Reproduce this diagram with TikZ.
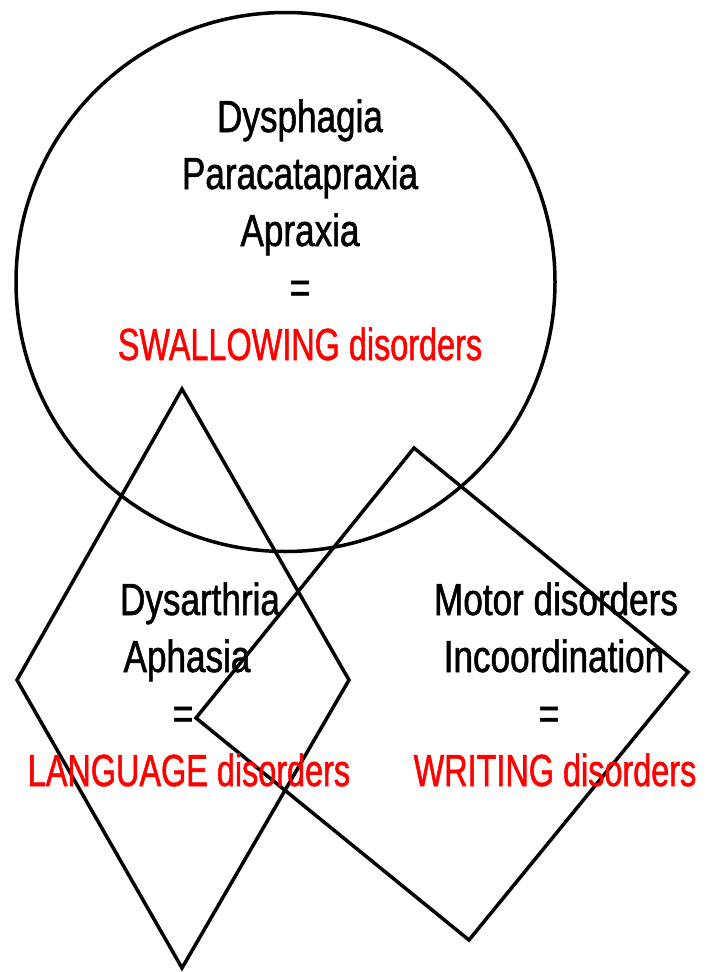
\documentclass[tikz,border=0pt]{standalone}
\usepackage{fontspec}
\setmainfont{Liberation Sans}[FakeStretch=0.78,FakeBold=1.2]
\newfontfamily\capsfont{Liberation Sans}[FakeStretch=0.72,FakeBold=1.2]
\begin{document}
\begin{tikzpicture}[x=1pt,y=-1pt,
  shape line/.style={draw=black, line width=3.5pt, line join=miter},
  txt/.style={anchor=base, inner sep=0pt, font=\fontsize{45}{45}\selectfont, text=black},
  redtxt/.style={anchor=base, inner sep=0pt, font=\fontsize{45}{45}\capsfont, text=red}]
\useasboundingbox (0,0) rectangle (709,972);
% swallowing circle
\draw[shape line] (285.5,282) circle[radius=269.5];
% language diamond
\coordinate (lt) at (182,389);
\coordinate (lr) at (349,680);
\coordinate (lb) at (182,968);
\coordinate (ll) at (17,680);
\draw[shape line] (lt) -- (lr) -- (lb) -- (ll) -- cycle;
% writing diamond
\coordinate (wt) at (414,448);
\coordinate (wr) at (688,672);
\coordinate (wb) at (469,940);
\coordinate (wl) at (196,718);
\draw[shape line] (wt) -- (wr) -- (wb) -- (wl) -- cycle;
% circle texts
\node[txt] (s1) at (300,132) {Dysphagia};
\node[txt] (s2) at (300,189) {Paracatapraxia};
\node[txt] (s3) at (300,246) {Apraxia};
\node[txt] (s4) at (300,303) {=};
\node[redtxt] (s5) at (300,360) {SWALLOWING disorders};
% language texts
\node[txt] (l1) at (200,615) {Dysarthria};
\node[txt] (l2) at (187,672) {Aphasia};
\node[txt] (l3) at (183,729) {=};
\node[redtxt] (l4) at (189,786) {LANGUAGE disorders};
% writing texts
\node[txt] (w1) at (556,615) {Motor disorders};
\node[txt] (w2) at (554,672) {Incoordination};
\node[txt] (w3) at (549,729) {=};
\node[redtxt] (w4) at (555,786) {WRITING disorders};
\end{tikzpicture}
\end{document}
